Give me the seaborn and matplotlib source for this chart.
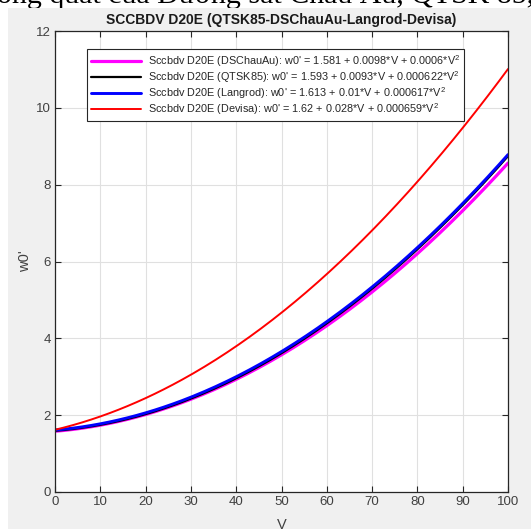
import numpy as np
import pandas as pd
import matplotlib
matplotlib.use("Agg")
import matplotlib.pyplot as plt
from matplotlib.patches import Rectangle
import seaborn as sns

# Resistance formulas: w0' = a + b*V + c*V^2
names = ["DSChauAu", "QTSK85", "Langrod", "Devisa"]
coef_a = [1.581, 1.593, 1.613, 1.62]
coef_b = [0.0098, 0.0093, 0.01, 0.028]
coef_c = [0.0006, 0.000622, 0.000617, 0.000659]
a_txt = ["1.581", "1.593", "1.613", "1.62"]
b_txt = ["0.0098", "0.0093", "0.01", "0.028"]
c_txt = ["0.0006", "0.000622", "0.000617", "0.000659"]
colors = ["#ff00ff", "#000000", "#0000ff", "#ff0000"]
widths = [2.3, 1.6, 2.1, 1.4]

x_ticks = list(range(0, 101, 10))
y_ticks = list(range(0, 13, 2))

V = np.linspace(0, 100, 201)
frames = []
for n, a, b, c in zip(names, coef_a, coef_b, coef_c):
    frames.append(pd.DataFrame({"V": V, "w0": a + b * V + c * V ** 2, "series": n}))
df = pd.concat(frames, ignore_index=True)

sns.set_theme(style="white")
plt.rcParams["font.family"] = ["Liberation Sans", "DejaVu Sans"]
plt.rcParams["mathtext.fontset"] = "custom"
plt.rcParams["mathtext.rm"] = "Liberation Sans"

W, H = 531, 529
fig = plt.figure(figsize=(W / 100, H / 100), dpi=100, facecolor="white")
fig.patches.append(Rectangle((8 / W, 0), 1 - 8 / W, 1 - 8 / H, transform=fig.transFigure,
                             facecolor="#f0f0f0", edgecolor="none", zorder=-5))
fig.text(-3 / W, 1 - 3 / H, "ông quát của Đường sắt Châu Âu, QTSK 85, ",
         fontsize=21.5, family=["Liberation Serif", "DejaVu Serif"], color="black",
         ha="left", va="baseline", zorder=-10)

ax = fig.add_axes([55 / W, 1 - 492 / H, (508 - 55) / W, (492 - 31) / H])
ax.set_facecolor("white")

for i, (n, col, lw) in enumerate(zip(names, colors, widths)):
    label = (f"Sccbdv D20E ({n}): w0' = {a_txt[i]} + "
             f"{b_txt[i]}*V + {c_txt[i]}*V$^2$")
    sns.lineplot(data=df[df["series"] == n], x="V", y="w0", color=col, lw=lw,
                 ax=ax, label=label)

ax.set_xlim(0, 100)
ax.set_ylim(0, 12)
ax.set_xticks(x_ticks)
ax.set_yticks(y_ticks)
ax.grid(True, color="#e0e0e0", lw=0.8)
ax.set_axisbelow(True)
for s in ax.spines.values():
    s.set_color("#262626")
    s.set_linewidth(0.9)
ax.tick_params(direction="in", length=4, width=0.8, colors="#262626",
               labelcolor="#404040", labelsize=9.5, top=True, right=True,
               bottom=True, left=True, pad=3)

ax.set_title("SCCBDV D20E (QTSK85-DSChauAu-Langrod-Devisa)", fontsize=10,
             fontweight="bold", color="#1a1a1a", pad=5)
ax.set_xlabel("V", fontsize=10.5, color="#404040", labelpad=7)
ax.set_ylabel("w0'", fontsize=10.5, color="#404040", labelpad=3)

leg = ax.legend(loc="upper left", bbox_to_anchor=(32 / 453, 1 - 18 / 461),
                borderaxespad=0, fontsize=7.8, handlelength=4.6, handletextpad=0.6,
                labelspacing=0.0, borderpad=0.4, frameon=True, fancybox=False,
                framealpha=1, edgecolor="#262626")
leg.get_frame().set_linewidth(0.8)
for t in leg.get_texts():
    t.set_color("#262626")

fig.savefig("out.png", dpi=100, facecolor=fig.get_facecolor())
